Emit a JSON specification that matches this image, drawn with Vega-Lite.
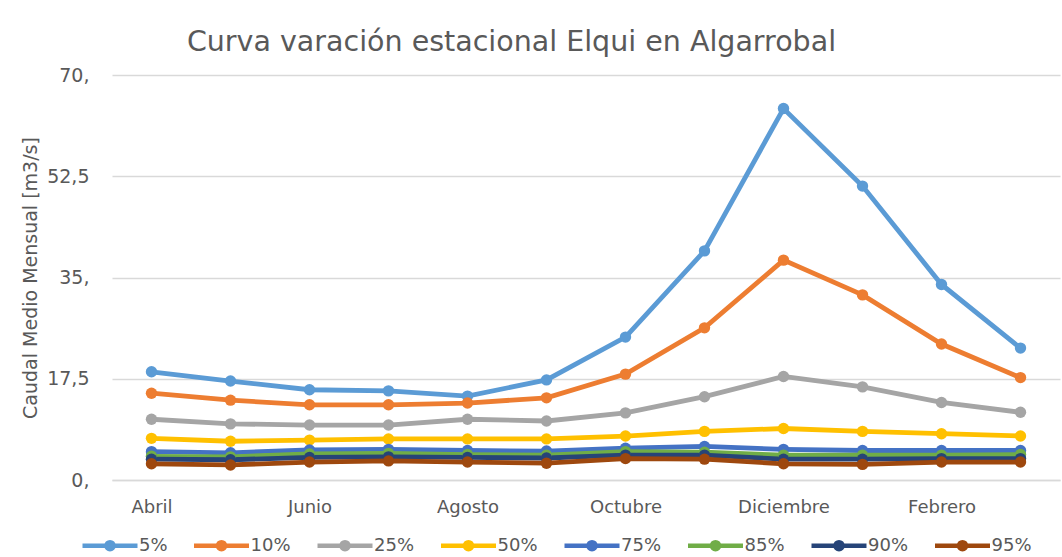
{
  "$schema": "https://vega.github.io/schema/vega-lite/v6.json",
  "width": 948,
  "height": 405,
  "autosize": {"type": "none"},
  "padding": {"left": 112, "top": 75, "right": 2, "bottom": 77},
  "background": "white",
  "config": {"font": "DejaVu Sans", "view": {"stroke": null}},
  "title": {"text": "Curva varación estacional Elqui en Algarrobal", "fontSize": 28.5, "fontWeight": "normal", "color": "#595959", "anchor": "middle", "frame": "group", "dx": -74.5, "baseline": "alphabetic", "offset": -13},
  "data": {"values": [
    {"m":"Abril","p":"5%","v":18.7},{"m":"Mayo","p":"5%","v":17.1},{"m":"Junio","p":"5%","v":15.6},{"m":"Julio","p":"5%","v":15.4},{"m":"Agosto","p":"5%","v":14.5},{"m":"Septiembre","p":"5%","v":17.3},{"m":"Octubre","p":"5%","v":24.7},{"m":"Noviembre","p":"5%","v":39.6},{"m":"Diciembre","p":"5%","v":64.2},{"m":"Enero","p":"5%","v":50.8},{"m":"Febrero","p":"5%","v":33.8},{"m":"Marzo","p":"5%","v":22.8},
    {"m":"Abril","p":"10%","v":15.0},{"m":"Mayo","p":"10%","v":13.8},{"m":"Junio","p":"10%","v":13.0},{"m":"Julio","p":"10%","v":13.0},{"m":"Agosto","p":"10%","v":13.3},{"m":"Septiembre","p":"10%","v":14.2},{"m":"Octubre","p":"10%","v":18.3},{"m":"Noviembre","p":"10%","v":26.3},{"m":"Diciembre","p":"10%","v":38.0},{"m":"Enero","p":"10%","v":32.0},{"m":"Febrero","p":"10%","v":23.5},{"m":"Marzo","p":"10%","v":17.7},
    {"m":"Abril","p":"25%","v":10.5},{"m":"Mayo","p":"25%","v":9.7},{"m":"Junio","p":"25%","v":9.5},{"m":"Julio","p":"25%","v":9.5},{"m":"Agosto","p":"25%","v":10.5},{"m":"Septiembre","p":"25%","v":10.2},{"m":"Octubre","p":"25%","v":11.6},{"m":"Noviembre","p":"25%","v":14.4},{"m":"Diciembre","p":"25%","v":17.9},{"m":"Enero","p":"25%","v":16.1},{"m":"Febrero","p":"25%","v":13.4},{"m":"Marzo","p":"25%","v":11.7},
    {"m":"Abril","p":"50%","v":7.2},{"m":"Mayo","p":"50%","v":6.7},{"m":"Junio","p":"50%","v":6.9},{"m":"Julio","p":"50%","v":7.1},{"m":"Agosto","p":"50%","v":7.1},{"m":"Septiembre","p":"50%","v":7.1},{"m":"Octubre","p":"50%","v":7.6},{"m":"Noviembre","p":"50%","v":8.4},{"m":"Diciembre","p":"50%","v":8.9},{"m":"Enero","p":"50%","v":8.4},{"m":"Febrero","p":"50%","v":8.0},{"m":"Marzo","p":"50%","v":7.6},
    {"m":"Abril","p":"75%","v":4.9},{"m":"Mayo","p":"75%","v":4.7},{"m":"Junio","p":"75%","v":5.2},{"m":"Julio","p":"75%","v":5.3},{"m":"Agosto","p":"75%","v":5.1},{"m":"Septiembre","p":"75%","v":5.0},{"m":"Octubre","p":"75%","v":5.5},{"m":"Noviembre","p":"75%","v":5.8},{"m":"Diciembre","p":"75%","v":5.3},{"m":"Enero","p":"75%","v":5.1},{"m":"Febrero","p":"75%","v":5.1},{"m":"Marzo","p":"75%","v":5.1},
    {"m":"Abril","p":"85%","v":4.1},{"m":"Mayo","p":"85%","v":4.0},{"m":"Junio","p":"85%","v":4.5},{"m":"Julio","p":"85%","v":4.6},{"m":"Agosto","p":"85%","v":4.4},{"m":"Septiembre","p":"85%","v":4.3},{"m":"Octubre","p":"85%","v":4.9},{"m":"Noviembre","p":"85%","v":4.8},{"m":"Diciembre","p":"85%","v":4.3},{"m":"Enero","p":"85%","v":4.3},{"m":"Febrero","p":"85%","v":4.3},{"m":"Marzo","p":"85%","v":4.4},
    {"m":"Abril","p":"90%","v":3.6},{"m":"Mayo","p":"90%","v":3.5},{"m":"Junio","p":"90%","v":3.9},{"m":"Julio","p":"90%","v":4.0},{"m":"Agosto","p":"90%","v":3.9},{"m":"Septiembre","p":"90%","v":3.8},{"m":"Octubre","p":"90%","v":4.3},{"m":"Noviembre","p":"90%","v":4.3},{"m":"Diciembre","p":"90%","v":3.6},{"m":"Enero","p":"90%","v":3.6},{"m":"Febrero","p":"90%","v":3.7},{"m":"Marzo","p":"90%","v":3.7},
    {"m":"Abril","p":"95%","v":2.8},{"m":"Mayo","p":"95%","v":2.6},{"m":"Junio","p":"95%","v":3.1},{"m":"Julio","p":"95%","v":3.3},{"m":"Agosto","p":"95%","v":3.1},{"m":"Septiembre","p":"95%","v":2.9},{"m":"Octubre","p":"95%","v":3.7},{"m":"Noviembre","p":"95%","v":3.6},{"m":"Diciembre","p":"95%","v":2.8},{"m":"Enero","p":"95%","v":2.7},{"m":"Febrero","p":"95%","v":3.1},{"m":"Marzo","p":"95%","v":3.1}
  ]},
  "encoding": {
    "x": {"field": "m", "type": "nominal", "sort": ["Abril","Mayo","Junio","Julio","Agosto","Septiembre","Octubre","Noviembre","Diciembre","Enero","Febrero","Marzo"],
      "scale": {"type": "point", "padding": 0.5},
      "axis": {"title": null, "values": ["Abril","Junio","Agosto","Octubre","Diciembre","Febrero"], "labelAngle": 0, "labelFontSize": 18, "labelColor": "#595959", "labelPadding": 18, "ticks": false, "domainColor": "#d9d9d9", "domainWidth": 1.3, "grid": false}},
    "y": {"field": "v", "type": "quantitative",
      "scale": {"domain": [0, 70], "nice": false, "zero": true},
      "axis": {"title": "Caudal Medio Mensual [m3/s]", "titleFontSize": 19, "titleFontWeight": "normal", "titleColor": "#595959", "titlePadding": 6, "values": [0, 17.5, 35, 52.5, 70], "labelExpr": "indexof(toString(datum.value), '.') >= 0 ? replace(toString(datum.value), '.', ',') : toString(datum.value) + ','", "labelFontSize": 19, "labelColor": "#595959", "labelPadding": 23, "ticks": false, "domain": false, "grid": true, "gridColor": "#d9d9d9", "gridWidth": 1.3}},
    "color": {"field": "p", "type": "nominal",
      "scale": {"domain": ["5%","10%","25%","50%","75%","85%","90%","95%"], "range": ["#5B9BD5","#ED7D31","#A5A5A5","#FFC000","#4472C4","#70AD47","#264478","#9E480E"]},
      "legend": {"orient": "none", "legendX": -32, "legendY": 440.5, "direction": "horizontal", "columns": 8, "title": null,
        "symbolType": "M-1,0L1,0M0.13,0A0.13,0.13,0,1,1,-0.13,0A0.13,0.13,0,1,1,0.13,0Z", "symbolSize": 3025, "symbolStrokeWidth": 4,
        "labelFontSize": 18, "labelColor": "#595959", "labelOffset": -1, "columnPadding": 16.5, "padding": 0,
        "encode": {"symbols": {"update": {"fill": {"scale": "color", "field": "value"}, "stroke": {"scale": "color", "field": "value"}, "strokeWidth": {"value": 4.5}, "opacity": {"value": 1}}}}}}
  },
  "layer": [
    {"mark": {"type": "line", "strokeWidth": 4.8}},
    {"mark": {"type": "point", "filled": true, "size": 130, "opacity": 1}}
  ]
}
